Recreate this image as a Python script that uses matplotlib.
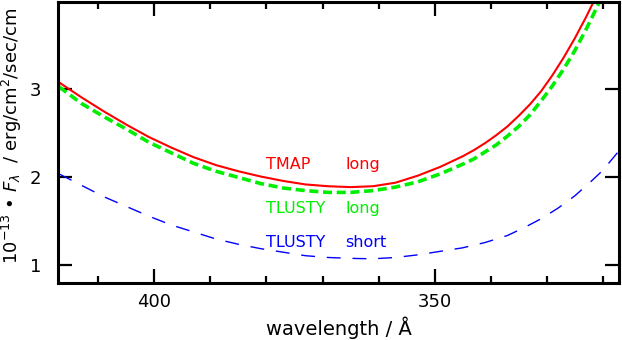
import matplotlib
matplotlib.use("Agg")
import matplotlib.pyplot as plt
from matplotlib.ticker import MultipleLocator

# wavelength grids (Angstrom)
wl_long = [417, 413, 409, 405, 401, 397, 393, 389, 385, 381, 377, 373, 369, 365,
           361, 357, 353, 349, 345, 343, 341, 339, 337, 335, 333, 331, 329, 327,
           325, 323, 321, 319]
wl_short = [417, 413, 409, 405, 401, 397, 393, 389, 385, 381, 377, 373, 369, 365,
            361, 357, 353, 349, 345, 341, 337, 334, 331, 328, 325, 322, 320, 317]

# flux in units of 1e-13 erg/cm2/sec/cm
tmap_long = [3.08, 2.91, 2.75, 2.60, 2.46, 2.34, 2.23, 2.14, 2.07, 2.01, 1.96, 1.92, 1.90, 1.89,
             1.90, 1.94, 2.02, 2.12, 2.24, 2.31, 2.39, 2.48, 2.58, 2.70, 2.83, 2.98, 3.16, 3.36,
             3.58, 3.82, 4.08, 4.35]
tlusty_long = [3.03, 2.84, 2.69, 2.55, 2.40, 2.28, 2.16, 2.07, 2.00, 1.93, 1.88, 1.85, 1.83, 1.83,
               1.85, 1.89, 1.95, 2.04, 2.15, 2.21, 2.29, 2.37, 2.47, 2.58, 2.71, 2.87, 3.04, 3.23,
               3.44, 3.68, 3.94, 4.22]
tlusty_short = [2.04, 1.91, 1.78, 1.67, 1.56, 1.46, 1.38, 1.30, 1.24, 1.19, 1.15, 1.11, 1.09, 1.08,
                1.075, 1.09, 1.12, 1.16, 1.20, 1.26, 1.34, 1.43, 1.53, 1.65, 1.79, 1.96, 2.08, 2.31]

plt.rcParams['font.family'] = ['DejaVu Sans']
plt.rcParams['mathtext.fontset'] = 'dejavusans'

fig = plt.figure(figsize=(6.22, 3.40), dpi=100)
ax = fig.add_axes([58/622, 1 - 283/340, (619-58)/622, (283-1.5)/340])

ax.plot(wl_long, tmap_long, color='#ff0000', lw=1.5)
ax.plot(wl_long, tlusty_long, color='#00ee00', lw=2.6, linestyle=(0, (2.5, 1.3)))
ax.plot(wl_short, tlusty_short, color='#0000ff', lw=1.0, linestyle=(0, (10, 8.5)))

ax.set_xlim(417.2, 317.1)
ax.set_ylim(0.8, 4.0)

ax.text(380.0, 2.10, 'TMAP', color='#ff0000', fontsize=11.5)
ax.text(365.9, 2.10, 'long', color='#ff0000', fontsize=11.5)
ax.text(380.0, 1.60, 'TLUSTY', color='#00ee00', fontsize=11.5)
ax.text(365.9, 1.60, 'long', color='#00ee00', fontsize=11.5)
ax.text(380.0, 1.21, 'TLUSTY', color='#0000ff', fontsize=11.5)
ax.text(365.9, 1.21, 'short', color='#0000ff', fontsize=11.5)

ax.xaxis.set_major_locator(MultipleLocator(50))
ax.xaxis.set_minor_locator(MultipleLocator(10))
ax.set_yticks([1, 2, 3])
ax.tick_params(which='both', direction='in', top=True, right=True, width=1.6)
ax.tick_params(which='major', length=10)
ax.tick_params(which='minor', length=5)
ax.tick_params(axis='x', labelsize=13, pad=7)
ax.tick_params(axis='y', labelsize=13, pad=12)
for s in ax.spines.values():
    s.set_linewidth(2.2)

ax.set_xlabel('wavelength / Å', fontsize=14, labelpad=4)
ax.set_ylabel(r'$10^{-13}$ • $F_\lambda$  / erg/cm$^2$/sec/cm', fontsize=13)
ax.yaxis.set_label_coords(-0.061, 0.522)

fig.savefig('out.png', dpi=100)
